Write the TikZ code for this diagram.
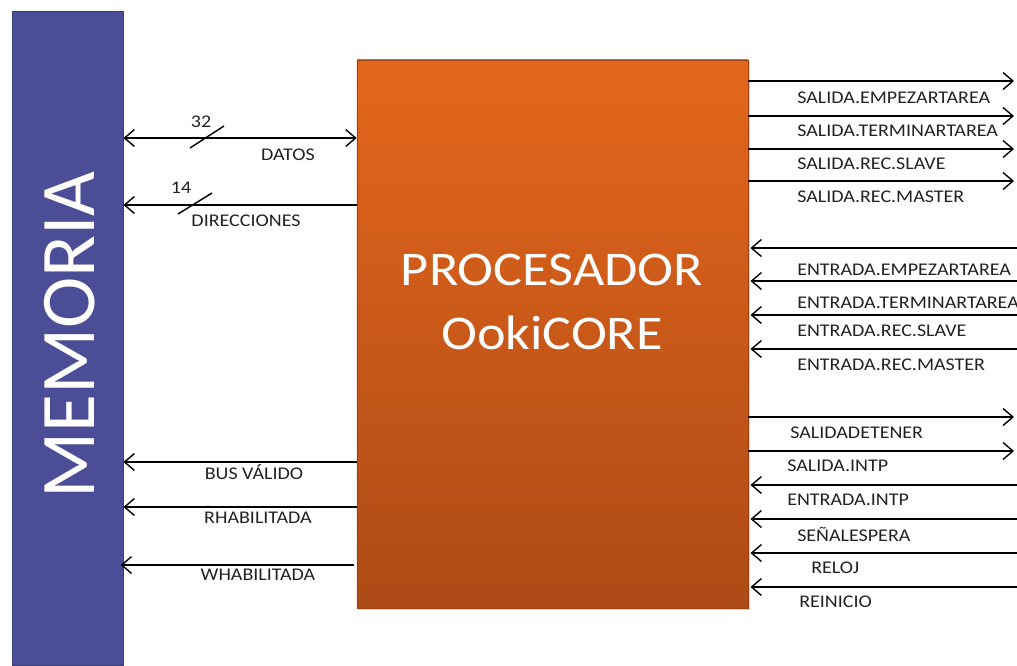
\documentclass[tikz,border=0pt]{standalone}
\usepackage{fontspec}
\setmainfont{Carlito}[FakeStretch=1.12]
\newfontfamily\memfont{Carlito}
\usetikzlibrary{positioning, arrows.meta, shadows}
\definecolor{memblue}{HTML}{4B4E96}
\definecolor{proctop}{HTML}{E5671C}
\definecolor{procbot}{HTML}{AD4A16}
\definecolor{txtgray}{HTML}{222222}

\begin{document}
\begin{tikzpicture}[
                x=0.025cm, y=-0.025cm,
                membox/.style={rectangle, fill=memblue, draw=memblue!80!black, line width=0.6pt, minimum width=2.775cm, minimum height=16.325cm},
                procbox/.style={rectangle, top color=proctop, bottom color=procbot, draw=procbot!90!black, line width=0.4pt, minimum width=9.775cm, minimum height=13.7cm, drop shadow={shadow xshift=1.5pt, shadow yshift=-1.5pt, opacity=0.35}},
                sig/.style={-{Straight Barb[length=7pt, width=12pt]}, line width=1pt},
                lbl/.style={font=\fontsize{12.7}{14}\selectfont, text=txtgray, inner sep=0pt},
                tick/.style={line width=1pt}
            ]
            \useasboundingbox (0,0) rectangle (1017,665);

            \node[membox] (memoria) at (67.5,338.5) {};
            \node[rotate=90, text=white, font=\memfont\fontsize{55}{60}\selectfont] (memtxt) at (70,335) {MEMORIA};

            \node[procbox] (proc) at (552.5,334) {};
            \node[text=white, align=center, font=\fontsize{34.4}{45.5}\selectfont] (proctxt) at (552,302) {PROCESADOR\\OokiCORE};

            % buses to memory
            \draw[sig, {Straight Barb[length=7pt, width=12pt]}-{Straight Barb[length=7pt, width=12pt]}] (memoria.east |- 0,138) -- (proc.west |- 0,138);
            \draw[tick] (190,148) -- (224,126);
            \node[lbl] (n32) at (201,122) {32};
            \node[lbl] (datos) at (288,155) {DATOS};

            \draw[sig] (proc.west |- 0,205) -- (memoria.east |- 0,205);
            \draw[tick] (178,214) -- (212,193);
            \node[lbl] (n14) at (181,188) {14};
            \node[lbl] (dir) at (246,221) {DIRECCIONES};

            \draw[sig] (proc.west |- 0,462) -- (memoria.east |- 0,462);
            \node[lbl] (busv) at (254,472) {BUS VÁLIDO};
            \draw[sig] (proc.west |- 0,507) -- (memoria.east |- 0,507);
            \node[lbl] (rhab) at (258,518) {RHABILITADA};
            \draw[sig] ([xshift=-2pt]proc.west |- 0,565) -- ([xshift=-2pt]memoria.east |- 0,565);
            \node[lbl] (whab) at (258,575) {WHABILITADA};

            % outputs
            \foreach \y/\lx/\ly/\txt [count=\i] in {81/797/98/SALIDA.EMPEZARTAREA, 116/797/131/SALIDA.TERMINARTAREA, 149/797/164/SALIDA.REC.SLAVE, 181/797/197/SALIDA.REC.MASTER, 417/790/433/SALIDADETENER, 451/787/466/SALIDA.INTP}
            {
                \coordinate (out\i) at (1014,\y);
                \draw[sig] (proc.east |- out\i) -- (out\i);
                \node[lbl, anchor=west] (lout\i) at (\lx,\ly) {\txt};
            }

            % inputs
            \foreach \y/\lx/\ly/\txt [count=\i] in {248/797/270/ENTRADA.EMPEZARTAREA, 281/797/303/ENTRADA.TERMINARTAREA, 315/797/331/ENTRADA.REC.SLAVE, 349/797/365/ENTRADA.REC.MASTER, 485/787/500/ENTRADA.INTP, 519/797/534/SEÑALESPERA, 553/811/568/RELOJ, 587/799/602/REINICIO}
            {
                \coordinate (in\i) at (1017,\y);
                \draw[sig] (in\i) -- ([xshift=1.5pt]proc.east |- in\i);
                \node[lbl, anchor=west] (lin\i) at (\lx,\ly) {\txt};
            }
        \end{tikzpicture}
\end{document}
